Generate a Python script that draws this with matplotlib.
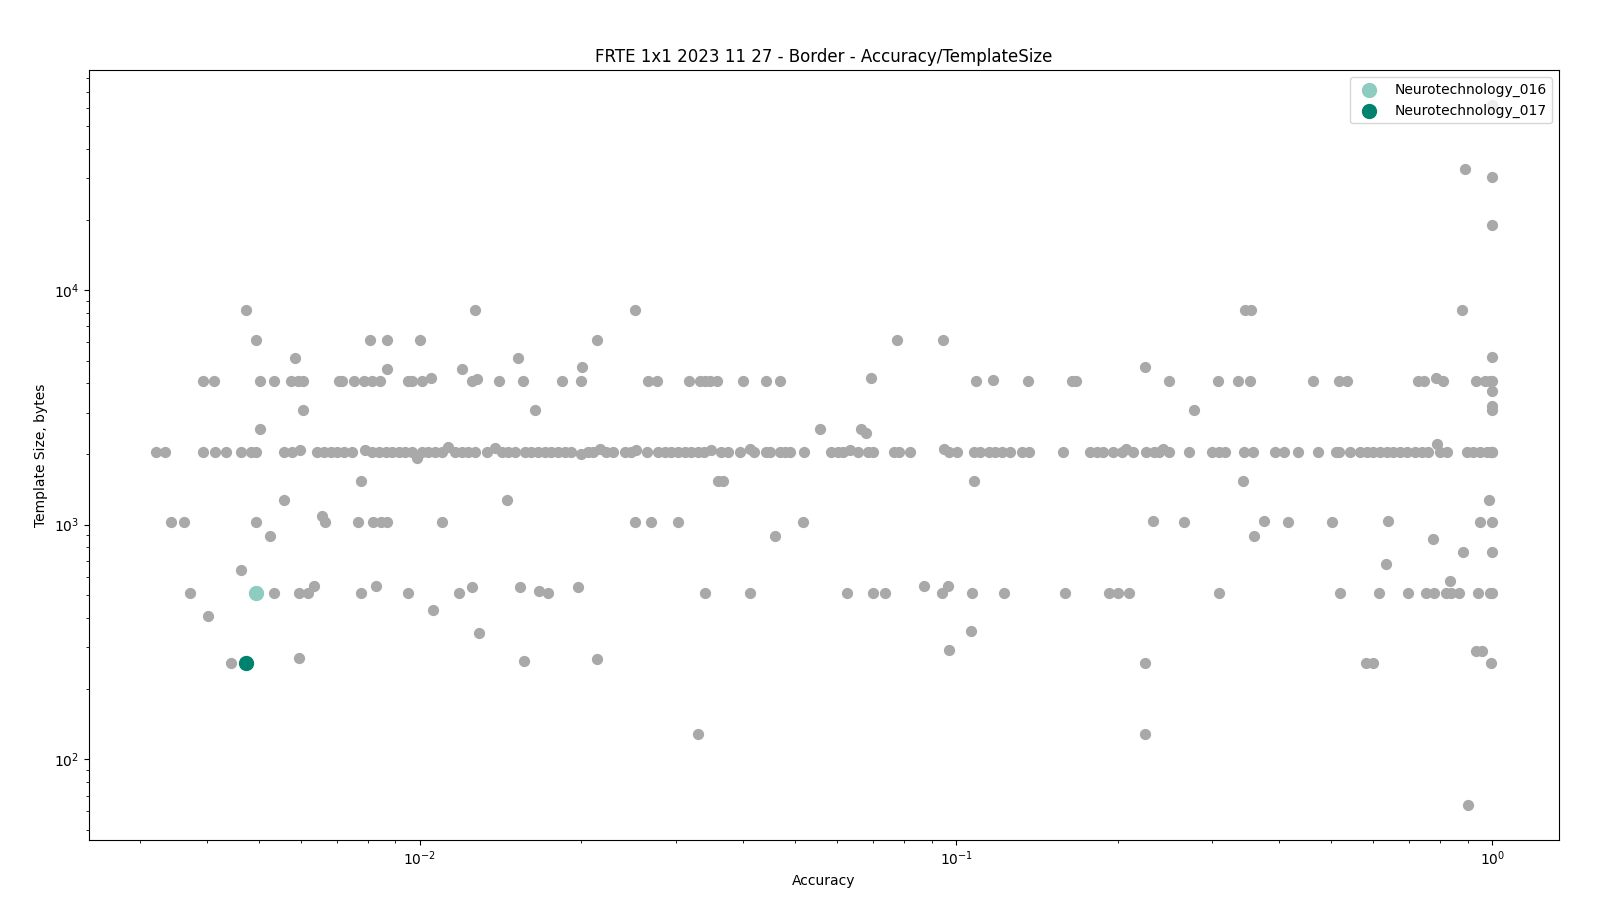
import matplotlib
matplotlib.use("Agg")
import matplotlib.pyplot as plt

# accuracy of algorithms whose template is exactly 2048 bytes
acc_2048 = [0.003213, 0.003341, 0.003943, 0.004140, 0.004338, 0.004641, 0.004833, 0.004951,
            0.005573, 0.005776, 0.006431, 0.006616, 0.006814, 0.007007, 0.007209, 0.007472,
            0.008142, 0.008380, 0.008623, 0.008877, 0.009132, 0.009391, 0.009666, 0.01007,
            0.01037, 0.01066, 0.01097, 0.01161, 0.01195, 0.01230, 0.01265, 0.01331, 0.01419,
            0.01461, 0.01502, 0.01569, 0.01614, 0.01661, 0.01709, 0.01758, 0.01810, 0.01861,
            0.01916, 0.02058, 0.02102, 0.02226, 0.02292, 0.02408, 0.02478, 0.02655, 0.02780,
            0.02859, 0.02942, 0.03029, 0.03115, 0.03206, 0.03300, 0.03385, 0.03646, 0.03753,
            0.03956, 0.04193, 0.04423, 0.04487, 0.04684, 0.04784, 0.04889, 0.05191, 0.05845,
            0.06017, 0.06147, 0.06553, 0.06845, 0.06992, 0.07668, 0.07838, 0.08203, 0.09694,
            0.1002, 0.1079, 0.1110, 0.1151, 0.1183, 0.1218, 0.1259, 0.1327, 0.1366, 0.1580,
            0.1779, 0.1832, 0.1876, 0.1958, 0.2039, 0.2134, 0.2259, 0.2335, 0.2386, 0.2490,
            0.2714, 0.3000, 0.3086, 0.3175, 0.3436, 0.3571, 0.3935, 0.4079, 0.4331, 0.4739,
            0.5112, 0.5185, 0.5429, 0.5666, 0.5833, 0.6000, 0.6174, 0.6355, 0.6536, 0.6728,
            0.6924, 0.7168, 0.7385, 0.7598, 0.7987, 0.8221, 0.8957, 0.9216, 0.9482, 0.9760,
            0.9952, 1.0, 1.0]

acc_4096 = [0.003939, 0.004135, 0.005038, 0.005349, 0.005742, 0.005916, 0.006048, 0.007066,
            0.007146, 0.007544, 0.007864, 0.008151, 0.008422, 0.009484, 0.009678, 0.01007,
            0.01248, 0.01401, 0.01554, 0.01843, 0.01994, 0.02660, 0.02770, 0.03181, 0.03329,
            0.03406, 0.03480, 0.03578, 0.04009, 0.04418, 0.04690, 0.1088, 0.1360, 0.1644,
            0.1675, 0.2489, 0.3083, 0.3360, 0.3536, 0.4631, 0.5178, 0.5346, 0.7268, 0.7454,
            0.8085, 0.9328, 0.9669, 0.9878, 1.0]

acc_1024 = [0.003439, 0.003636, 0.004947, 0.006656, 0.007663, 0.008163, 0.008458, 0.008681,
            0.01099, 0.02513, 0.02691, 0.03034, 0.05185, 0.2665, 0.4163, 0.5027, 0.9476, 1.0]

acc_512 = [0.003729, 0.005349, 0.005952, 0.006172, 0.007751, 0.009497, 0.01182, 0.01733,
           0.03393, 0.04132, 0.06258, 0.06998, 0.07365, 0.09394, 0.1068, 0.1227, 0.1593,
           0.1930, 0.2003, 0.2097, 0.3097, 0.5200, 0.6145, 0.6964, 0.7511, 0.7793, 0.8208,
           0.8381, 0.8661, 0.9397, 0.9908, 1.0]

# all remaining points (accuracy, template size)
other_acc = [0.005970, 0.007910, 0.009875, 0.01129, 0.01379, 0.01994, 0.02164, 0.02532,
             0.03493, 0.04118, 0.06325, 0.09489, 0.2074, 0.2430, 0.7876,
             0.01048, 0.01275, 0.1171, 0.7862,
             0.004733, 0.01269, 0.02521, 0.3455, 0.3548, 0.877,
             0.004947, 0.008072, 0.008681, 0.0100, 0.02138, 0.07744, 0.09447,
             0.005843, 0.01522, 1.0,
             0.008681, 0.01196, 0.02008, 0.2245, 0.06928,
             0.006057, 0.01642, 0.2782, 1.0, 1.0, 1.0,
             0.005038, 0.05578, 0.06658, 0.06781,
             0.007757, 0.03593, 0.03680, 0.1079, 0.3432,
             0.005566, 0.01452, 0.985, 0.006569,
             0.2324, 0.3754, 0.6388,
             0.005257, 0.04592, 0.3597, 0.7750,
             0.881, 1.0, 0.6334, 0.004642,
             0.01665, 0.006350, 0.008277, 0.01248, 0.01535, 0.01970, 0.08710, 0.09652, 0.8332,
             0.004030, 0.01057, 0.01288, 0.1065,
             0.09694, 0.9302, 0.9572,
             0.004447, 0.005952, 0.01564, 0.02134, 0.2254, 0.5814, 0.6000, 0.9922,
             0.03306, 0.2254, 0.9003,
             0.8902, 1.0, 1.0, 1.0]
other_size = [2080, 2080, 1920, 2150, 2120, 2000, 2100, 2080,
              2080, 2100, 2080, 2100, 2100, 2100, 2200,
              4200, 4160, 4150, 4200,
              8192, 8192, 8192, 8192, 8192, 8192,
              6144, 6144, 6144, 6144, 6144, 6144, 6144,
              5120, 5120, 5200,
              4608, 4608, 4700, 4700, 4224,
              3072, 3072, 3072, 3072, 3200, 3700,
              2560, 2560, 2560, 2465,
              1536, 1536, 1536, 1536, 1536,
              1280, 1280, 1280, 1088,
              1040, 1040, 1040,
              896, 896, 896, 865,
              768, 768, 678, 640,
              520, 546, 546, 540, 540, 540, 546, 546, 576,
              410, 432, 344, 352,
              292, 288, 288,
              258, 269, 262, 267, 256, 256, 256, 258,
              128, 128, 64,
              32768, 30300, 18900, 61440]

# highlighted algorithms
nt_names = ["Neurotechnology_016", "Neurotechnology_017"]
nt_acc = [0.004947, 0.004745]
nt_size = [512, 256]
nt_colors = ["#8ecbc0", "#00836e"]

fig, ax = plt.subplots(figsize=(16, 9), dpi=100)
fig.subplots_adjust(left=0.0555, right=0.9745, bottom=0.067, top=0.922)

grey = "#a9a9a9"
ax.scatter(acc_2048, [2048] * len(acc_2048), s=50, color=grey)
ax.scatter(acc_4096, [4096] * len(acc_4096), s=50, color=grey)
ax.scatter(acc_1024, [1024] * len(acc_1024), s=50, color=grey)
ax.scatter(acc_512, [512] * len(acc_512), s=50, color=grey)
ax.scatter(other_acc, other_size, s=50, color=grey)

for name, a, sz, c in zip(nt_names, nt_acc, nt_size, nt_colors):
    ax.scatter([a], [sz], s=100, color=c, label=name, zorder=3)

ax.set_xscale("log")
ax.set_yscale("log")
ax.set_xlabel("Accuracy")
ax.set_ylabel("Template Size, bytes")
ax.set_title("FRTE 1x1 2023 11 27 - Border - Accuracy/TemplateSize")
ax.legend(loc="upper right")

fig.savefig("out.png")
